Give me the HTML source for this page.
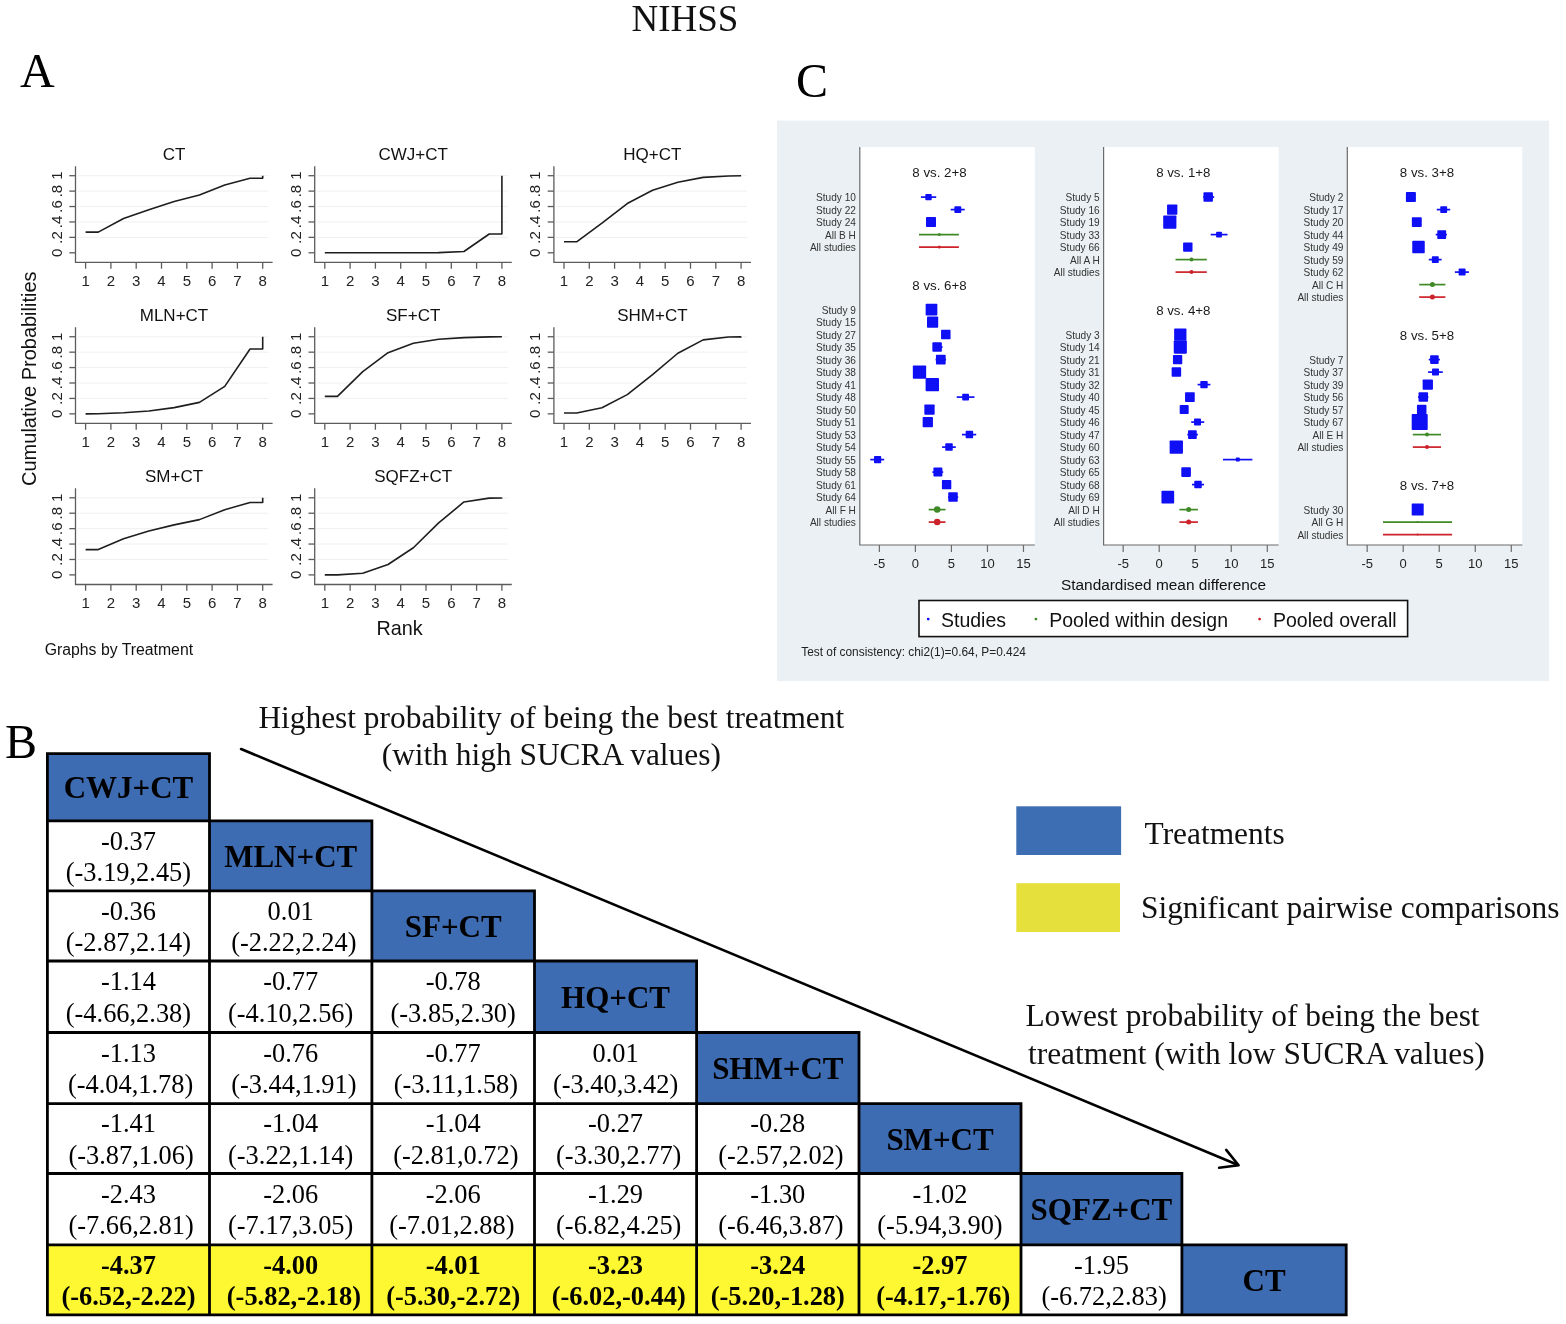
<!DOCTYPE html>
<html><head><meta charset="utf-8"><title>NIHSS</title>
<style>
html,body{margin:0;padding:0;background:#fff;}
body{width:1566px;height:1324px;overflow:hidden;}
svg{display:block;}
</style></head>
<body>
<svg width="1566" height="1324" viewBox="0 0 1566 1324">
<rect width="1566" height="1324" fill="#fff"/>
<text x="685" y="30.5" font-family="'Liberation Serif', 'Times New Roman', serif" font-size="37" text-anchor="middle" fill="#111">NIHSS</text>
<text x="20" y="87" font-family="'Liberation Serif', 'Times New Roman', serif" font-size="48" fill="#000">A</text>
<text x="796" y="97" font-family="'Liberation Serif', 'Times New Roman', serif" font-size="48" fill="#000">C</text>
<text x="5" y="757.6" font-family="'Liberation Serif', 'Times New Roman', serif" font-size="48" fill="#000">B</text>
<g font-family="'Liberation Sans', Arial, sans-serif"><line x1="77.5" y1="237.38" x2="268.6" y2="237.38" stroke="#f0f0f0" stroke-width="1"/><line x1="77.5" y1="221.96" x2="268.6" y2="221.96" stroke="#f0f0f0" stroke-width="1"/><line x1="77.5" y1="206.54" x2="268.6" y2="206.54" stroke="#f0f0f0" stroke-width="1"/><line x1="77.5" y1="191.12" x2="268.6" y2="191.12" stroke="#f0f0f0" stroke-width="1"/><line x1="77.5" y1="175.7" x2="268.6" y2="175.7" stroke="#f0f0f0" stroke-width="1"/><path d="M75.5 166.2V262.4H272.6" fill="none" stroke="#5c5c5c" stroke-width="1.3"/><line x1="69.3" y1="252.8" x2="75.5" y2="252.8" stroke="#5c5c5c" stroke-width="1.3"/><text transform="translate(61.7,252.8) rotate(-90)" text-anchor="middle" font-size="15" fill="#222">0</text><line x1="69.3" y1="237.38" x2="75.5" y2="237.38" stroke="#5c5c5c" stroke-width="1.3"/><text transform="translate(61.7,237.38) rotate(-90)" text-anchor="middle" font-size="15" fill="#222">.2</text><line x1="69.3" y1="221.96" x2="75.5" y2="221.96" stroke="#5c5c5c" stroke-width="1.3"/><text transform="translate(61.7,221.96) rotate(-90)" text-anchor="middle" font-size="15" fill="#222">.4</text><line x1="69.3" y1="206.54" x2="75.5" y2="206.54" stroke="#5c5c5c" stroke-width="1.3"/><text transform="translate(61.7,206.54) rotate(-90)" text-anchor="middle" font-size="15" fill="#222">.6</text><line x1="69.3" y1="191.12" x2="75.5" y2="191.12" stroke="#5c5c5c" stroke-width="1.3"/><text transform="translate(61.7,191.12) rotate(-90)" text-anchor="middle" font-size="15" fill="#222">.8</text><line x1="69.3" y1="175.7" x2="75.5" y2="175.7" stroke="#5c5c5c" stroke-width="1.3"/><text transform="translate(61.7,175.7) rotate(-90)" text-anchor="middle" font-size="15" fill="#222">1</text><line x1="85.6" y1="262.4" x2="85.6" y2="268.7" stroke="#5c5c5c" stroke-width="1.3"/><text x="85.6" y="286.2" text-anchor="middle" font-size="15" fill="#222">1</text><line x1="110.9" y1="262.4" x2="110.9" y2="268.7" stroke="#5c5c5c" stroke-width="1.3"/><text x="110.9" y="286.2" text-anchor="middle" font-size="15" fill="#222">2</text><line x1="136.2" y1="262.4" x2="136.2" y2="268.7" stroke="#5c5c5c" stroke-width="1.3"/><text x="136.2" y="286.2" text-anchor="middle" font-size="15" fill="#222">3</text><line x1="161.5" y1="262.4" x2="161.5" y2="268.7" stroke="#5c5c5c" stroke-width="1.3"/><text x="161.5" y="286.2" text-anchor="middle" font-size="15" fill="#222">4</text><line x1="186.8" y1="262.4" x2="186.8" y2="268.7" stroke="#5c5c5c" stroke-width="1.3"/><text x="186.8" y="286.2" text-anchor="middle" font-size="15" fill="#222">5</text><line x1="212.1" y1="262.4" x2="212.1" y2="268.7" stroke="#5c5c5c" stroke-width="1.3"/><text x="212.1" y="286.2" text-anchor="middle" font-size="15" fill="#222">6</text><line x1="237.4" y1="262.4" x2="237.4" y2="268.7" stroke="#5c5c5c" stroke-width="1.3"/><text x="237.4" y="286.2" text-anchor="middle" font-size="15" fill="#222">7</text><line x1="262.7" y1="262.4" x2="262.7" y2="268.7" stroke="#5c5c5c" stroke-width="1.3"/><text x="262.7" y="286.2" text-anchor="middle" font-size="15" fill="#222">8</text><text x="174" y="160" text-anchor="middle" font-size="17" fill="#111">CT</text><polyline points="85.6,232.14 98.25,232.14 123.55,218.57 148.85,209.86 174.15,201.53 199.45,194.9 224.75,184.95 250.05,178.32 262.7,178.32 262.7,175.7" fill="none" stroke="#1e1e1e" stroke-width="1.6" stroke-linejoin="round"/></g>
<g font-family="'Liberation Sans', Arial, sans-serif"><line x1="316.7" y1="237.38" x2="507.8" y2="237.38" stroke="#f0f0f0" stroke-width="1"/><line x1="316.7" y1="221.96" x2="507.8" y2="221.96" stroke="#f0f0f0" stroke-width="1"/><line x1="316.7" y1="206.54" x2="507.8" y2="206.54" stroke="#f0f0f0" stroke-width="1"/><line x1="316.7" y1="191.12" x2="507.8" y2="191.12" stroke="#f0f0f0" stroke-width="1"/><line x1="316.7" y1="175.7" x2="507.8" y2="175.7" stroke="#f0f0f0" stroke-width="1"/><path d="M314.7 166.2V262.4H511.8" fill="none" stroke="#5c5c5c" stroke-width="1.3"/><line x1="308.5" y1="252.8" x2="314.7" y2="252.8" stroke="#5c5c5c" stroke-width="1.3"/><text transform="translate(300.9,252.8) rotate(-90)" text-anchor="middle" font-size="15" fill="#222">0</text><line x1="308.5" y1="237.38" x2="314.7" y2="237.38" stroke="#5c5c5c" stroke-width="1.3"/><text transform="translate(300.9,237.38) rotate(-90)" text-anchor="middle" font-size="15" fill="#222">.2</text><line x1="308.5" y1="221.96" x2="314.7" y2="221.96" stroke="#5c5c5c" stroke-width="1.3"/><text transform="translate(300.9,221.96) rotate(-90)" text-anchor="middle" font-size="15" fill="#222">.4</text><line x1="308.5" y1="206.54" x2="314.7" y2="206.54" stroke="#5c5c5c" stroke-width="1.3"/><text transform="translate(300.9,206.54) rotate(-90)" text-anchor="middle" font-size="15" fill="#222">.6</text><line x1="308.5" y1="191.12" x2="314.7" y2="191.12" stroke="#5c5c5c" stroke-width="1.3"/><text transform="translate(300.9,191.12) rotate(-90)" text-anchor="middle" font-size="15" fill="#222">.8</text><line x1="308.5" y1="175.7" x2="314.7" y2="175.7" stroke="#5c5c5c" stroke-width="1.3"/><text transform="translate(300.9,175.7) rotate(-90)" text-anchor="middle" font-size="15" fill="#222">1</text><line x1="324.8" y1="262.4" x2="324.8" y2="268.7" stroke="#5c5c5c" stroke-width="1.3"/><text x="324.8" y="286.2" text-anchor="middle" font-size="15" fill="#222">1</text><line x1="350.1" y1="262.4" x2="350.1" y2="268.7" stroke="#5c5c5c" stroke-width="1.3"/><text x="350.1" y="286.2" text-anchor="middle" font-size="15" fill="#222">2</text><line x1="375.4" y1="262.4" x2="375.4" y2="268.7" stroke="#5c5c5c" stroke-width="1.3"/><text x="375.4" y="286.2" text-anchor="middle" font-size="15" fill="#222">3</text><line x1="400.7" y1="262.4" x2="400.7" y2="268.7" stroke="#5c5c5c" stroke-width="1.3"/><text x="400.7" y="286.2" text-anchor="middle" font-size="15" fill="#222">4</text><line x1="426" y1="262.4" x2="426" y2="268.7" stroke="#5c5c5c" stroke-width="1.3"/><text x="426" y="286.2" text-anchor="middle" font-size="15" fill="#222">5</text><line x1="451.3" y1="262.4" x2="451.3" y2="268.7" stroke="#5c5c5c" stroke-width="1.3"/><text x="451.3" y="286.2" text-anchor="middle" font-size="15" fill="#222">6</text><line x1="476.6" y1="262.4" x2="476.6" y2="268.7" stroke="#5c5c5c" stroke-width="1.3"/><text x="476.6" y="286.2" text-anchor="middle" font-size="15" fill="#222">7</text><line x1="501.9" y1="262.4" x2="501.9" y2="268.7" stroke="#5c5c5c" stroke-width="1.3"/><text x="501.9" y="286.2" text-anchor="middle" font-size="15" fill="#222">8</text><text x="413.2" y="160" text-anchor="middle" font-size="17" fill="#111">CWJ+CT</text><polyline points="324.8,252.8 337.45,252.8 362.75,252.8 388.05,252.8 413.35,252.8 438.65,252.65 463.95,251.49 489.25,233.99 501.9,233.99 501.9,175.7" fill="none" stroke="#1e1e1e" stroke-width="1.6" stroke-linejoin="round"/></g>
<g font-family="'Liberation Sans', Arial, sans-serif"><line x1="555.9" y1="237.38" x2="747" y2="237.38" stroke="#f0f0f0" stroke-width="1"/><line x1="555.9" y1="221.96" x2="747" y2="221.96" stroke="#f0f0f0" stroke-width="1"/><line x1="555.9" y1="206.54" x2="747" y2="206.54" stroke="#f0f0f0" stroke-width="1"/><line x1="555.9" y1="191.12" x2="747" y2="191.12" stroke="#f0f0f0" stroke-width="1"/><line x1="555.9" y1="175.7" x2="747" y2="175.7" stroke="#f0f0f0" stroke-width="1"/><path d="M553.9 166.2V262.4H751" fill="none" stroke="#5c5c5c" stroke-width="1.3"/><line x1="547.7" y1="252.8" x2="553.9" y2="252.8" stroke="#5c5c5c" stroke-width="1.3"/><text transform="translate(540.1,252.8) rotate(-90)" text-anchor="middle" font-size="15" fill="#222">0</text><line x1="547.7" y1="237.38" x2="553.9" y2="237.38" stroke="#5c5c5c" stroke-width="1.3"/><text transform="translate(540.1,237.38) rotate(-90)" text-anchor="middle" font-size="15" fill="#222">.2</text><line x1="547.7" y1="221.96" x2="553.9" y2="221.96" stroke="#5c5c5c" stroke-width="1.3"/><text transform="translate(540.1,221.96) rotate(-90)" text-anchor="middle" font-size="15" fill="#222">.4</text><line x1="547.7" y1="206.54" x2="553.9" y2="206.54" stroke="#5c5c5c" stroke-width="1.3"/><text transform="translate(540.1,206.54) rotate(-90)" text-anchor="middle" font-size="15" fill="#222">.6</text><line x1="547.7" y1="191.12" x2="553.9" y2="191.12" stroke="#5c5c5c" stroke-width="1.3"/><text transform="translate(540.1,191.12) rotate(-90)" text-anchor="middle" font-size="15" fill="#222">.8</text><line x1="547.7" y1="175.7" x2="553.9" y2="175.7" stroke="#5c5c5c" stroke-width="1.3"/><text transform="translate(540.1,175.7) rotate(-90)" text-anchor="middle" font-size="15" fill="#222">1</text><line x1="564" y1="262.4" x2="564" y2="268.7" stroke="#5c5c5c" stroke-width="1.3"/><text x="564" y="286.2" text-anchor="middle" font-size="15" fill="#222">1</text><line x1="589.3" y1="262.4" x2="589.3" y2="268.7" stroke="#5c5c5c" stroke-width="1.3"/><text x="589.3" y="286.2" text-anchor="middle" font-size="15" fill="#222">2</text><line x1="614.6" y1="262.4" x2="614.6" y2="268.7" stroke="#5c5c5c" stroke-width="1.3"/><text x="614.6" y="286.2" text-anchor="middle" font-size="15" fill="#222">3</text><line x1="639.9" y1="262.4" x2="639.9" y2="268.7" stroke="#5c5c5c" stroke-width="1.3"/><text x="639.9" y="286.2" text-anchor="middle" font-size="15" fill="#222">4</text><line x1="665.2" y1="262.4" x2="665.2" y2="268.7" stroke="#5c5c5c" stroke-width="1.3"/><text x="665.2" y="286.2" text-anchor="middle" font-size="15" fill="#222">5</text><line x1="690.5" y1="262.4" x2="690.5" y2="268.7" stroke="#5c5c5c" stroke-width="1.3"/><text x="690.5" y="286.2" text-anchor="middle" font-size="15" fill="#222">6</text><line x1="715.8" y1="262.4" x2="715.8" y2="268.7" stroke="#5c5c5c" stroke-width="1.3"/><text x="715.8" y="286.2" text-anchor="middle" font-size="15" fill="#222">7</text><line x1="741.1" y1="262.4" x2="741.1" y2="268.7" stroke="#5c5c5c" stroke-width="1.3"/><text x="741.1" y="286.2" text-anchor="middle" font-size="15" fill="#222">8</text><text x="652.4" y="160" text-anchor="middle" font-size="17" fill="#111">HQ+CT</text><polyline points="564,241.77 576.65,241.77 601.95,223.12 627.25,203.53 652.55,190.19 677.85,182.33 703.15,177.4 728.45,176.01 741.1,175.7 741.1,175.7" fill="none" stroke="#1e1e1e" stroke-width="1.6" stroke-linejoin="round"/></g>
<g font-family="'Liberation Sans', Arial, sans-serif"><line x1="77.5" y1="398.43" x2="268.6" y2="398.43" stroke="#f0f0f0" stroke-width="1"/><line x1="77.5" y1="383.01" x2="268.6" y2="383.01" stroke="#f0f0f0" stroke-width="1"/><line x1="77.5" y1="367.59" x2="268.6" y2="367.59" stroke="#f0f0f0" stroke-width="1"/><line x1="77.5" y1="352.17" x2="268.6" y2="352.17" stroke="#f0f0f0" stroke-width="1"/><line x1="77.5" y1="336.75" x2="268.6" y2="336.75" stroke="#f0f0f0" stroke-width="1"/><path d="M75.5 327.25V423.45H272.6" fill="none" stroke="#5c5c5c" stroke-width="1.3"/><line x1="69.3" y1="413.85" x2="75.5" y2="413.85" stroke="#5c5c5c" stroke-width="1.3"/><text transform="translate(61.7,413.85) rotate(-90)" text-anchor="middle" font-size="15" fill="#222">0</text><line x1="69.3" y1="398.43" x2="75.5" y2="398.43" stroke="#5c5c5c" stroke-width="1.3"/><text transform="translate(61.7,398.43) rotate(-90)" text-anchor="middle" font-size="15" fill="#222">.2</text><line x1="69.3" y1="383.01" x2="75.5" y2="383.01" stroke="#5c5c5c" stroke-width="1.3"/><text transform="translate(61.7,383.01) rotate(-90)" text-anchor="middle" font-size="15" fill="#222">.4</text><line x1="69.3" y1="367.59" x2="75.5" y2="367.59" stroke="#5c5c5c" stroke-width="1.3"/><text transform="translate(61.7,367.59) rotate(-90)" text-anchor="middle" font-size="15" fill="#222">.6</text><line x1="69.3" y1="352.17" x2="75.5" y2="352.17" stroke="#5c5c5c" stroke-width="1.3"/><text transform="translate(61.7,352.17) rotate(-90)" text-anchor="middle" font-size="15" fill="#222">.8</text><line x1="69.3" y1="336.75" x2="75.5" y2="336.75" stroke="#5c5c5c" stroke-width="1.3"/><text transform="translate(61.7,336.75) rotate(-90)" text-anchor="middle" font-size="15" fill="#222">1</text><line x1="85.6" y1="423.45" x2="85.6" y2="429.75" stroke="#5c5c5c" stroke-width="1.3"/><text x="85.6" y="447.25" text-anchor="middle" font-size="15" fill="#222">1</text><line x1="110.9" y1="423.45" x2="110.9" y2="429.75" stroke="#5c5c5c" stroke-width="1.3"/><text x="110.9" y="447.25" text-anchor="middle" font-size="15" fill="#222">2</text><line x1="136.2" y1="423.45" x2="136.2" y2="429.75" stroke="#5c5c5c" stroke-width="1.3"/><text x="136.2" y="447.25" text-anchor="middle" font-size="15" fill="#222">3</text><line x1="161.5" y1="423.45" x2="161.5" y2="429.75" stroke="#5c5c5c" stroke-width="1.3"/><text x="161.5" y="447.25" text-anchor="middle" font-size="15" fill="#222">4</text><line x1="186.8" y1="423.45" x2="186.8" y2="429.75" stroke="#5c5c5c" stroke-width="1.3"/><text x="186.8" y="447.25" text-anchor="middle" font-size="15" fill="#222">5</text><line x1="212.1" y1="423.45" x2="212.1" y2="429.75" stroke="#5c5c5c" stroke-width="1.3"/><text x="212.1" y="447.25" text-anchor="middle" font-size="15" fill="#222">6</text><line x1="237.4" y1="423.45" x2="237.4" y2="429.75" stroke="#5c5c5c" stroke-width="1.3"/><text x="237.4" y="447.25" text-anchor="middle" font-size="15" fill="#222">7</text><line x1="262.7" y1="423.45" x2="262.7" y2="429.75" stroke="#5c5c5c" stroke-width="1.3"/><text x="262.7" y="447.25" text-anchor="middle" font-size="15" fill="#222">8</text><text x="174" y="321.05" text-anchor="middle" font-size="17" fill="#111">MLN+CT</text><polyline points="85.6,413.85 98.25,413.7 123.55,412.77 148.85,411.07 174.15,407.6 199.45,402.36 224.75,386.33 250.05,348.93 262.7,348.93 262.7,336.75" fill="none" stroke="#1e1e1e" stroke-width="1.6" stroke-linejoin="round"/></g>
<g font-family="'Liberation Sans', Arial, sans-serif"><line x1="316.7" y1="398.43" x2="507.8" y2="398.43" stroke="#f0f0f0" stroke-width="1"/><line x1="316.7" y1="383.01" x2="507.8" y2="383.01" stroke="#f0f0f0" stroke-width="1"/><line x1="316.7" y1="367.59" x2="507.8" y2="367.59" stroke="#f0f0f0" stroke-width="1"/><line x1="316.7" y1="352.17" x2="507.8" y2="352.17" stroke="#f0f0f0" stroke-width="1"/><line x1="316.7" y1="336.75" x2="507.8" y2="336.75" stroke="#f0f0f0" stroke-width="1"/><path d="M314.7 327.25V423.45H511.8" fill="none" stroke="#5c5c5c" stroke-width="1.3"/><line x1="308.5" y1="413.85" x2="314.7" y2="413.85" stroke="#5c5c5c" stroke-width="1.3"/><text transform="translate(300.9,413.85) rotate(-90)" text-anchor="middle" font-size="15" fill="#222">0</text><line x1="308.5" y1="398.43" x2="314.7" y2="398.43" stroke="#5c5c5c" stroke-width="1.3"/><text transform="translate(300.9,398.43) rotate(-90)" text-anchor="middle" font-size="15" fill="#222">.2</text><line x1="308.5" y1="383.01" x2="314.7" y2="383.01" stroke="#5c5c5c" stroke-width="1.3"/><text transform="translate(300.9,383.01) rotate(-90)" text-anchor="middle" font-size="15" fill="#222">.4</text><line x1="308.5" y1="367.59" x2="314.7" y2="367.59" stroke="#5c5c5c" stroke-width="1.3"/><text transform="translate(300.9,367.59) rotate(-90)" text-anchor="middle" font-size="15" fill="#222">.6</text><line x1="308.5" y1="352.17" x2="314.7" y2="352.17" stroke="#5c5c5c" stroke-width="1.3"/><text transform="translate(300.9,352.17) rotate(-90)" text-anchor="middle" font-size="15" fill="#222">.8</text><line x1="308.5" y1="336.75" x2="314.7" y2="336.75" stroke="#5c5c5c" stroke-width="1.3"/><text transform="translate(300.9,336.75) rotate(-90)" text-anchor="middle" font-size="15" fill="#222">1</text><line x1="324.8" y1="423.45" x2="324.8" y2="429.75" stroke="#5c5c5c" stroke-width="1.3"/><text x="324.8" y="447.25" text-anchor="middle" font-size="15" fill="#222">1</text><line x1="350.1" y1="423.45" x2="350.1" y2="429.75" stroke="#5c5c5c" stroke-width="1.3"/><text x="350.1" y="447.25" text-anchor="middle" font-size="15" fill="#222">2</text><line x1="375.4" y1="423.45" x2="375.4" y2="429.75" stroke="#5c5c5c" stroke-width="1.3"/><text x="375.4" y="447.25" text-anchor="middle" font-size="15" fill="#222">3</text><line x1="400.7" y1="423.45" x2="400.7" y2="429.75" stroke="#5c5c5c" stroke-width="1.3"/><text x="400.7" y="447.25" text-anchor="middle" font-size="15" fill="#222">4</text><line x1="426" y1="423.45" x2="426" y2="429.75" stroke="#5c5c5c" stroke-width="1.3"/><text x="426" y="447.25" text-anchor="middle" font-size="15" fill="#222">5</text><line x1="451.3" y1="423.45" x2="451.3" y2="429.75" stroke="#5c5c5c" stroke-width="1.3"/><text x="451.3" y="447.25" text-anchor="middle" font-size="15" fill="#222">6</text><line x1="476.6" y1="423.45" x2="476.6" y2="429.75" stroke="#5c5c5c" stroke-width="1.3"/><text x="476.6" y="447.25" text-anchor="middle" font-size="15" fill="#222">7</text><line x1="501.9" y1="423.45" x2="501.9" y2="429.75" stroke="#5c5c5c" stroke-width="1.3"/><text x="501.9" y="447.25" text-anchor="middle" font-size="15" fill="#222">8</text><text x="413.2" y="321.05" text-anchor="middle" font-size="17" fill="#111">SF+CT</text><polyline points="324.8,396.35 337.45,396.35 362.75,371.6 388.05,352.63 413.35,343.23 438.65,339.22 463.95,337.6 489.25,336.9 501.9,336.75 501.9,336.75" fill="none" stroke="#1e1e1e" stroke-width="1.6" stroke-linejoin="round"/></g>
<g font-family="'Liberation Sans', Arial, sans-serif"><line x1="555.9" y1="398.43" x2="747" y2="398.43" stroke="#f0f0f0" stroke-width="1"/><line x1="555.9" y1="383.01" x2="747" y2="383.01" stroke="#f0f0f0" stroke-width="1"/><line x1="555.9" y1="367.59" x2="747" y2="367.59" stroke="#f0f0f0" stroke-width="1"/><line x1="555.9" y1="352.17" x2="747" y2="352.17" stroke="#f0f0f0" stroke-width="1"/><line x1="555.9" y1="336.75" x2="747" y2="336.75" stroke="#f0f0f0" stroke-width="1"/><path d="M553.9 327.25V423.45H751" fill="none" stroke="#5c5c5c" stroke-width="1.3"/><line x1="547.7" y1="413.85" x2="553.9" y2="413.85" stroke="#5c5c5c" stroke-width="1.3"/><text transform="translate(540.1,413.85) rotate(-90)" text-anchor="middle" font-size="15" fill="#222">0</text><line x1="547.7" y1="398.43" x2="553.9" y2="398.43" stroke="#5c5c5c" stroke-width="1.3"/><text transform="translate(540.1,398.43) rotate(-90)" text-anchor="middle" font-size="15" fill="#222">.2</text><line x1="547.7" y1="383.01" x2="553.9" y2="383.01" stroke="#5c5c5c" stroke-width="1.3"/><text transform="translate(540.1,383.01) rotate(-90)" text-anchor="middle" font-size="15" fill="#222">.4</text><line x1="547.7" y1="367.59" x2="553.9" y2="367.59" stroke="#5c5c5c" stroke-width="1.3"/><text transform="translate(540.1,367.59) rotate(-90)" text-anchor="middle" font-size="15" fill="#222">.6</text><line x1="547.7" y1="352.17" x2="553.9" y2="352.17" stroke="#5c5c5c" stroke-width="1.3"/><text transform="translate(540.1,352.17) rotate(-90)" text-anchor="middle" font-size="15" fill="#222">.8</text><line x1="547.7" y1="336.75" x2="553.9" y2="336.75" stroke="#5c5c5c" stroke-width="1.3"/><text transform="translate(540.1,336.75) rotate(-90)" text-anchor="middle" font-size="15" fill="#222">1</text><line x1="564" y1="423.45" x2="564" y2="429.75" stroke="#5c5c5c" stroke-width="1.3"/><text x="564" y="447.25" text-anchor="middle" font-size="15" fill="#222">1</text><line x1="589.3" y1="423.45" x2="589.3" y2="429.75" stroke="#5c5c5c" stroke-width="1.3"/><text x="589.3" y="447.25" text-anchor="middle" font-size="15" fill="#222">2</text><line x1="614.6" y1="423.45" x2="614.6" y2="429.75" stroke="#5c5c5c" stroke-width="1.3"/><text x="614.6" y="447.25" text-anchor="middle" font-size="15" fill="#222">3</text><line x1="639.9" y1="423.45" x2="639.9" y2="429.75" stroke="#5c5c5c" stroke-width="1.3"/><text x="639.9" y="447.25" text-anchor="middle" font-size="15" fill="#222">4</text><line x1="665.2" y1="423.45" x2="665.2" y2="429.75" stroke="#5c5c5c" stroke-width="1.3"/><text x="665.2" y="447.25" text-anchor="middle" font-size="15" fill="#222">5</text><line x1="690.5" y1="423.45" x2="690.5" y2="429.75" stroke="#5c5c5c" stroke-width="1.3"/><text x="690.5" y="447.25" text-anchor="middle" font-size="15" fill="#222">6</text><line x1="715.8" y1="423.45" x2="715.8" y2="429.75" stroke="#5c5c5c" stroke-width="1.3"/><text x="715.8" y="447.25" text-anchor="middle" font-size="15" fill="#222">7</text><line x1="741.1" y1="423.45" x2="741.1" y2="429.75" stroke="#5c5c5c" stroke-width="1.3"/><text x="741.1" y="447.25" text-anchor="middle" font-size="15" fill="#222">8</text><text x="652.4" y="321.05" text-anchor="middle" font-size="17" fill="#111">SHM+CT</text><polyline points="564,413 576.65,413 601.95,407.68 627.25,394.65 652.55,374.61 677.85,353.25 703.15,339.91 728.45,337.06 741.1,336.9 741.1,336.75" fill="none" stroke="#1e1e1e" stroke-width="1.6" stroke-linejoin="round"/></g>
<g font-family="'Liberation Sans', Arial, sans-serif"><line x1="77.5" y1="559.48" x2="268.6" y2="559.48" stroke="#f0f0f0" stroke-width="1"/><line x1="77.5" y1="544.06" x2="268.6" y2="544.06" stroke="#f0f0f0" stroke-width="1"/><line x1="77.5" y1="528.64" x2="268.6" y2="528.64" stroke="#f0f0f0" stroke-width="1"/><line x1="77.5" y1="513.22" x2="268.6" y2="513.22" stroke="#f0f0f0" stroke-width="1"/><line x1="77.5" y1="497.8" x2="268.6" y2="497.8" stroke="#f0f0f0" stroke-width="1"/><path d="M75.5 488.3V584.5H272.6" fill="none" stroke="#5c5c5c" stroke-width="1.3"/><line x1="69.3" y1="574.9" x2="75.5" y2="574.9" stroke="#5c5c5c" stroke-width="1.3"/><text transform="translate(61.7,574.9) rotate(-90)" text-anchor="middle" font-size="15" fill="#222">0</text><line x1="69.3" y1="559.48" x2="75.5" y2="559.48" stroke="#5c5c5c" stroke-width="1.3"/><text transform="translate(61.7,559.48) rotate(-90)" text-anchor="middle" font-size="15" fill="#222">.2</text><line x1="69.3" y1="544.06" x2="75.5" y2="544.06" stroke="#5c5c5c" stroke-width="1.3"/><text transform="translate(61.7,544.06) rotate(-90)" text-anchor="middle" font-size="15" fill="#222">.4</text><line x1="69.3" y1="528.64" x2="75.5" y2="528.64" stroke="#5c5c5c" stroke-width="1.3"/><text transform="translate(61.7,528.64) rotate(-90)" text-anchor="middle" font-size="15" fill="#222">.6</text><line x1="69.3" y1="513.22" x2="75.5" y2="513.22" stroke="#5c5c5c" stroke-width="1.3"/><text transform="translate(61.7,513.22) rotate(-90)" text-anchor="middle" font-size="15" fill="#222">.8</text><line x1="69.3" y1="497.8" x2="75.5" y2="497.8" stroke="#5c5c5c" stroke-width="1.3"/><text transform="translate(61.7,497.8) rotate(-90)" text-anchor="middle" font-size="15" fill="#222">1</text><line x1="85.6" y1="584.5" x2="85.6" y2="590.8" stroke="#5c5c5c" stroke-width="1.3"/><text x="85.6" y="608.3" text-anchor="middle" font-size="15" fill="#222">1</text><line x1="110.9" y1="584.5" x2="110.9" y2="590.8" stroke="#5c5c5c" stroke-width="1.3"/><text x="110.9" y="608.3" text-anchor="middle" font-size="15" fill="#222">2</text><line x1="136.2" y1="584.5" x2="136.2" y2="590.8" stroke="#5c5c5c" stroke-width="1.3"/><text x="136.2" y="608.3" text-anchor="middle" font-size="15" fill="#222">3</text><line x1="161.5" y1="584.5" x2="161.5" y2="590.8" stroke="#5c5c5c" stroke-width="1.3"/><text x="161.5" y="608.3" text-anchor="middle" font-size="15" fill="#222">4</text><line x1="186.8" y1="584.5" x2="186.8" y2="590.8" stroke="#5c5c5c" stroke-width="1.3"/><text x="186.8" y="608.3" text-anchor="middle" font-size="15" fill="#222">5</text><line x1="212.1" y1="584.5" x2="212.1" y2="590.8" stroke="#5c5c5c" stroke-width="1.3"/><text x="212.1" y="608.3" text-anchor="middle" font-size="15" fill="#222">6</text><line x1="237.4" y1="584.5" x2="237.4" y2="590.8" stroke="#5c5c5c" stroke-width="1.3"/><text x="237.4" y="608.3" text-anchor="middle" font-size="15" fill="#222">7</text><line x1="262.7" y1="584.5" x2="262.7" y2="590.8" stroke="#5c5c5c" stroke-width="1.3"/><text x="262.7" y="608.3" text-anchor="middle" font-size="15" fill="#222">8</text><text x="174" y="482.1" text-anchor="middle" font-size="17" fill="#111">SM+CT</text><polyline points="85.6,549.61 98.25,549.61 123.55,538.82 148.85,530.95 174.15,524.86 199.45,519.62 224.75,509.67 250.05,502.5 262.7,502.5 262.7,497.8" fill="none" stroke="#1e1e1e" stroke-width="1.6" stroke-linejoin="round"/></g>
<g font-family="'Liberation Sans', Arial, sans-serif"><line x1="316.7" y1="559.48" x2="507.8" y2="559.48" stroke="#f0f0f0" stroke-width="1"/><line x1="316.7" y1="544.06" x2="507.8" y2="544.06" stroke="#f0f0f0" stroke-width="1"/><line x1="316.7" y1="528.64" x2="507.8" y2="528.64" stroke="#f0f0f0" stroke-width="1"/><line x1="316.7" y1="513.22" x2="507.8" y2="513.22" stroke="#f0f0f0" stroke-width="1"/><line x1="316.7" y1="497.8" x2="507.8" y2="497.8" stroke="#f0f0f0" stroke-width="1"/><path d="M314.7 488.3V584.5H511.8" fill="none" stroke="#5c5c5c" stroke-width="1.3"/><line x1="308.5" y1="574.9" x2="314.7" y2="574.9" stroke="#5c5c5c" stroke-width="1.3"/><text transform="translate(300.9,574.9) rotate(-90)" text-anchor="middle" font-size="15" fill="#222">0</text><line x1="308.5" y1="559.48" x2="314.7" y2="559.48" stroke="#5c5c5c" stroke-width="1.3"/><text transform="translate(300.9,559.48) rotate(-90)" text-anchor="middle" font-size="15" fill="#222">.2</text><line x1="308.5" y1="544.06" x2="314.7" y2="544.06" stroke="#5c5c5c" stroke-width="1.3"/><text transform="translate(300.9,544.06) rotate(-90)" text-anchor="middle" font-size="15" fill="#222">.4</text><line x1="308.5" y1="528.64" x2="314.7" y2="528.64" stroke="#5c5c5c" stroke-width="1.3"/><text transform="translate(300.9,528.64) rotate(-90)" text-anchor="middle" font-size="15" fill="#222">.6</text><line x1="308.5" y1="513.22" x2="314.7" y2="513.22" stroke="#5c5c5c" stroke-width="1.3"/><text transform="translate(300.9,513.22) rotate(-90)" text-anchor="middle" font-size="15" fill="#222">.8</text><line x1="308.5" y1="497.8" x2="314.7" y2="497.8" stroke="#5c5c5c" stroke-width="1.3"/><text transform="translate(300.9,497.8) rotate(-90)" text-anchor="middle" font-size="15" fill="#222">1</text><line x1="324.8" y1="584.5" x2="324.8" y2="590.8" stroke="#5c5c5c" stroke-width="1.3"/><text x="324.8" y="608.3" text-anchor="middle" font-size="15" fill="#222">1</text><line x1="350.1" y1="584.5" x2="350.1" y2="590.8" stroke="#5c5c5c" stroke-width="1.3"/><text x="350.1" y="608.3" text-anchor="middle" font-size="15" fill="#222">2</text><line x1="375.4" y1="584.5" x2="375.4" y2="590.8" stroke="#5c5c5c" stroke-width="1.3"/><text x="375.4" y="608.3" text-anchor="middle" font-size="15" fill="#222">3</text><line x1="400.7" y1="584.5" x2="400.7" y2="590.8" stroke="#5c5c5c" stroke-width="1.3"/><text x="400.7" y="608.3" text-anchor="middle" font-size="15" fill="#222">4</text><line x1="426" y1="584.5" x2="426" y2="590.8" stroke="#5c5c5c" stroke-width="1.3"/><text x="426" y="608.3" text-anchor="middle" font-size="15" fill="#222">5</text><line x1="451.3" y1="584.5" x2="451.3" y2="590.8" stroke="#5c5c5c" stroke-width="1.3"/><text x="451.3" y="608.3" text-anchor="middle" font-size="15" fill="#222">6</text><line x1="476.6" y1="584.5" x2="476.6" y2="590.8" stroke="#5c5c5c" stroke-width="1.3"/><text x="476.6" y="608.3" text-anchor="middle" font-size="15" fill="#222">7</text><line x1="501.9" y1="584.5" x2="501.9" y2="590.8" stroke="#5c5c5c" stroke-width="1.3"/><text x="501.9" y="608.3" text-anchor="middle" font-size="15" fill="#222">8</text><text x="413.2" y="482.1" text-anchor="middle" font-size="17" fill="#111">SQFZ+CT</text><polyline points="324.8,574.9 337.45,574.9 362.75,573.2 388.05,564.49 413.35,547.76 438.65,522.93 463.95,501.96 489.25,498.11 501.9,497.95 501.9,497.8" fill="none" stroke="#1e1e1e" stroke-width="1.6" stroke-linejoin="round"/></g>
<text transform="translate(36,378.7) rotate(-90)" text-anchor="middle" font-family="'Liberation Sans', Arial, sans-serif" font-size="20" fill="#111">Cumulative Probabilities</text>
<text x="399.6" y="635.4" text-anchor="middle" font-family="'Liberation Sans', Arial, sans-serif" font-size="19.8" fill="#111">Rank</text>
<text x="44.7" y="655" font-family="'Liberation Sans', Arial, sans-serif" font-size="15.8" fill="#111">Graphs by Treatment</text>
<rect x="777" y="120.6" width="772" height="560.4" fill="#eaf0f4"/>
<g font-family="'Liberation Sans', Arial, sans-serif"><rect x="859.8" y="147" width="175" height="398" fill="#fff"/><path d="M859.8 147V545H1034.8" fill="none" stroke="#6b6b6b" stroke-width="1.2"/><line x1="879.38" y1="545" x2="879.38" y2="552" stroke="#6b6b6b" stroke-width="1.2"/><text x="879.38" y="567.5" text-anchor="middle" font-size="13" fill="#222">-5</text><line x1="915.4" y1="545" x2="915.4" y2="552" stroke="#6b6b6b" stroke-width="1.2"/><text x="915.4" y="567.5" text-anchor="middle" font-size="13" fill="#222">0</text><line x1="951.42" y1="545" x2="951.42" y2="552" stroke="#6b6b6b" stroke-width="1.2"/><text x="951.42" y="567.5" text-anchor="middle" font-size="13" fill="#222">5</text><line x1="987.45" y1="545" x2="987.45" y2="552" stroke="#6b6b6b" stroke-width="1.2"/><text x="987.45" y="567.5" text-anchor="middle" font-size="13" fill="#222">10</text><line x1="1023.48" y1="545" x2="1023.48" y2="552" stroke="#6b6b6b" stroke-width="1.2"/><text x="1023.48" y="567.5" text-anchor="middle" font-size="13" fill="#222">15</text><text x="939.5" y="177" text-anchor="middle" font-size="13.3" fill="#1a1a1a">8 vs. 2+8</text><text x="855.9" y="201" text-anchor="end" font-size="10.1" fill="#333">Study 10</text><text x="855.9" y="213.5" text-anchor="end" font-size="10.1" fill="#333">Study 22</text><text x="855.9" y="226" text-anchor="end" font-size="10.1" fill="#333">Study 24</text><text x="855.9" y="238.5" text-anchor="end" font-size="10.1" fill="#333">All B H</text><text x="855.9" y="251" text-anchor="end" font-size="10.1" fill="#333">All studies</text><text x="939.5" y="289.5" text-anchor="middle" font-size="13.3" fill="#1a1a1a">8 vs. 6+8</text><text x="855.9" y="313.5" text-anchor="end" font-size="10.1" fill="#333">Study 9</text><text x="855.9" y="326" text-anchor="end" font-size="10.1" fill="#333">Study 15</text><text x="855.9" y="338.5" text-anchor="end" font-size="10.1" fill="#333">Study 27</text><text x="855.9" y="351" text-anchor="end" font-size="10.1" fill="#333">Study 35</text><text x="855.9" y="363.5" text-anchor="end" font-size="10.1" fill="#333">Study 36</text><text x="855.9" y="376" text-anchor="end" font-size="10.1" fill="#333">Study 38</text><text x="855.9" y="388.5" text-anchor="end" font-size="10.1" fill="#333">Study 41</text><text x="855.9" y="401" text-anchor="end" font-size="10.1" fill="#333">Study 48</text><text x="855.9" y="413.5" text-anchor="end" font-size="10.1" fill="#333">Study 50</text><text x="855.9" y="426" text-anchor="end" font-size="10.1" fill="#333">Study 51</text><text x="855.9" y="438.5" text-anchor="end" font-size="10.1" fill="#333">Study 53</text><text x="855.9" y="451" text-anchor="end" font-size="10.1" fill="#333">Study 54</text><text x="855.9" y="463.5" text-anchor="end" font-size="10.1" fill="#333">Study 55</text><text x="855.9" y="476" text-anchor="end" font-size="10.1" fill="#333">Study 58</text><text x="855.9" y="488.5" text-anchor="end" font-size="10.1" fill="#333">Study 61</text><text x="855.9" y="501" text-anchor="end" font-size="10.1" fill="#333">Study 64</text><text x="855.9" y="513.5" text-anchor="end" font-size="10.1" fill="#333">All F H</text><text x="855.9" y="526" text-anchor="end" font-size="10.1" fill="#333">All studies</text><line x1="920.9" y1="197.1" x2="936.2" y2="197.1" stroke="#0f0ff5" stroke-width="1.7"/><rect x="925.3" y="193.9" width="6.4" height="6.4" rx="0.8" fill="#0f0ff5"/><line x1="950.7" y1="209.6" x2="964.7" y2="209.6" stroke="#0f0ff5" stroke-width="1.7"/><rect x="954.35" y="206.15" width="6.9" height="6.9" rx="0.8" fill="#0f0ff5"/><rect x="926" y="217.1" width="10" height="10" rx="0.8" fill="#0f0ff5"/><line x1="919" y1="234.6" x2="958.9" y2="234.6" stroke="#3f8a26" stroke-width="1.7"/><circle cx="939.3" cy="234.6" r="1.5" fill="#3f8a26"/><line x1="919" y1="247.1" x2="958.9" y2="247.1" stroke="#cc2229" stroke-width="1.7"/><circle cx="939.3" cy="247.1" r="1.5" fill="#cc2229"/><rect x="925.65" y="303.75" width="11.7" height="11.7" rx="0.8" fill="#0f0ff5"/><rect x="927" y="316.5" width="11.2" height="11.2" rx="0.8" fill="#0f0ff5"/><rect x="941.05" y="329.85" width="9.5" height="9.5" rx="0.8" fill="#0f0ff5"/><line x1="936" y1="347.1" x2="942.6" y2="347.1" stroke="#0f0ff5" stroke-width="1.7"/><rect x="932.35" y="342.35" width="9.5" height="9.5" rx="0.8" fill="#0f0ff5"/><line x1="935.6" y1="359.6" x2="946.1" y2="359.6" stroke="#0f0ff5" stroke-width="1.7"/><rect x="935.95" y="354.75" width="9.7" height="9.7" rx="0.8" fill="#0f0ff5"/><rect x="912.85" y="365.45" width="13.3" height="13.3" rx="0.8" fill="#0f0ff5"/><rect x="925.6" y="377.9" width="13.4" height="13.4" rx="0.8" fill="#0f0ff5"/><line x1="956.7" y1="397.1" x2="974.5" y2="397.1" stroke="#0f0ff5" stroke-width="1.7"/><rect x="962.2" y="393.7" width="6.8" height="6.8" rx="0.8" fill="#0f0ff5"/><rect x="924.35" y="404.45" width="10.3" height="10.3" rx="0.8" fill="#0f0ff5"/><rect x="922.65" y="416.95" width="10.3" height="10.3" rx="0.8" fill="#0f0ff5"/><line x1="962" y1="434.6" x2="976.2" y2="434.6" stroke="#0f0ff5" stroke-width="1.7"/><rect x="965.65" y="430.85" width="7.5" height="7.5" rx="0.8" fill="#0f0ff5"/><line x1="942.1" y1="447.1" x2="955.8" y2="447.1" stroke="#0f0ff5" stroke-width="1.7"/><rect x="945.25" y="443.35" width="7.5" height="7.5" rx="0.8" fill="#0f0ff5"/><line x1="870.3" y1="459.6" x2="884.2" y2="459.6" stroke="#0f0ff5" stroke-width="1.7"/><rect x="874" y="456" width="7.2" height="7.2" rx="0.8" fill="#0f0ff5"/><line x1="932.4" y1="472.1" x2="943.2" y2="472.1" stroke="#0f0ff5" stroke-width="1.7"/><rect x="933.4" y="467.6" width="9" height="9" rx="0.8" fill="#0f0ff5"/><rect x="941.9" y="479.9" width="9.4" height="9.4" rx="0.8" fill="#0f0ff5"/><line x1="948" y1="497.1" x2="958.2" y2="497.1" stroke="#0f0ff5" stroke-width="1.7"/><rect x="948.25" y="492.35" width="9.5" height="9.5" rx="0.8" fill="#0f0ff5"/><line x1="928.7" y1="509.6" x2="945.5" y2="509.6" stroke="#3f8a26" stroke-width="1.7"/><circle cx="937.2" cy="509.6" r="3.25" fill="#3f8a26"/><line x1="928.7" y1="522.1" x2="945.5" y2="522.1" stroke="#cc2229" stroke-width="1.7"/><circle cx="937.2" cy="522.1" r="3.25" fill="#cc2229"/></g>
<g font-family="'Liberation Sans', Arial, sans-serif"><rect x="1103.6" y="147" width="175" height="398" fill="#fff"/><path d="M1103.6 147V545H1278.6" fill="none" stroke="#6b6b6b" stroke-width="1.2"/><line x1="1123.17" y1="545" x2="1123.17" y2="552" stroke="#6b6b6b" stroke-width="1.2"/><text x="1123.17" y="567.5" text-anchor="middle" font-size="13" fill="#222">-5</text><line x1="1159.2" y1="545" x2="1159.2" y2="552" stroke="#6b6b6b" stroke-width="1.2"/><text x="1159.2" y="567.5" text-anchor="middle" font-size="13" fill="#222">0</text><line x1="1195.23" y1="545" x2="1195.23" y2="552" stroke="#6b6b6b" stroke-width="1.2"/><text x="1195.23" y="567.5" text-anchor="middle" font-size="13" fill="#222">5</text><line x1="1231.25" y1="545" x2="1231.25" y2="552" stroke="#6b6b6b" stroke-width="1.2"/><text x="1231.25" y="567.5" text-anchor="middle" font-size="13" fill="#222">10</text><line x1="1267.28" y1="545" x2="1267.28" y2="552" stroke="#6b6b6b" stroke-width="1.2"/><text x="1267.28" y="567.5" text-anchor="middle" font-size="13" fill="#222">15</text><text x="1183.3" y="177" text-anchor="middle" font-size="13.3" fill="#1a1a1a">8 vs. 1+8</text><text x="1099.7" y="201" text-anchor="end" font-size="10.1" fill="#333">Study 5</text><text x="1099.7" y="213.5" text-anchor="end" font-size="10.1" fill="#333">Study 16</text><text x="1099.7" y="226" text-anchor="end" font-size="10.1" fill="#333">Study 19</text><text x="1099.7" y="238.5" text-anchor="end" font-size="10.1" fill="#333">Study 33</text><text x="1099.7" y="251" text-anchor="end" font-size="10.1" fill="#333">Study 66</text><text x="1099.7" y="263.5" text-anchor="end" font-size="10.1" fill="#333">All A H</text><text x="1099.7" y="276" text-anchor="end" font-size="10.1" fill="#333">All studies</text><text x="1183.3" y="314.5" text-anchor="middle" font-size="13.3" fill="#1a1a1a">8 vs. 4+8</text><text x="1099.7" y="338.5" text-anchor="end" font-size="10.1" fill="#333">Study 3</text><text x="1099.7" y="351" text-anchor="end" font-size="10.1" fill="#333">Study 14</text><text x="1099.7" y="363.5" text-anchor="end" font-size="10.1" fill="#333">Study 21</text><text x="1099.7" y="376" text-anchor="end" font-size="10.1" fill="#333">Study 31</text><text x="1099.7" y="388.5" text-anchor="end" font-size="10.1" fill="#333">Study 32</text><text x="1099.7" y="401" text-anchor="end" font-size="10.1" fill="#333">Study 40</text><text x="1099.7" y="413.5" text-anchor="end" font-size="10.1" fill="#333">Study 45</text><text x="1099.7" y="426" text-anchor="end" font-size="10.1" fill="#333">Study 46</text><text x="1099.7" y="438.5" text-anchor="end" font-size="10.1" fill="#333">Study 47</text><text x="1099.7" y="451" text-anchor="end" font-size="10.1" fill="#333">Study 60</text><text x="1099.7" y="463.5" text-anchor="end" font-size="10.1" fill="#333">Study 63</text><text x="1099.7" y="476" text-anchor="end" font-size="10.1" fill="#333">Study 65</text><text x="1099.7" y="488.5" text-anchor="end" font-size="10.1" fill="#333">Study 68</text><text x="1099.7" y="501" text-anchor="end" font-size="10.1" fill="#333">Study 69</text><text x="1099.7" y="513.5" text-anchor="end" font-size="10.1" fill="#333">All D H</text><text x="1099.7" y="526" text-anchor="end" font-size="10.1" fill="#333">All studies</text><line x1="1203.2" y1="197.1" x2="1214.2" y2="197.1" stroke="#0f0ff5" stroke-width="1.7"/><rect x="1203.45" y="192.35" width="9.5" height="9.5" rx="0.8" fill="#0f0ff5"/><rect x="1167.05" y="204.45" width="10.3" height="10.3" rx="0.8" fill="#0f0ff5"/><rect x="1163.2" y="215.5" width="13.2" height="13.2" rx="0.8" fill="#0f0ff5"/><line x1="1210.7" y1="234.6" x2="1227.5" y2="234.6" stroke="#0f0ff5" stroke-width="1.7"/><rect x="1216.1" y="231.7" width="5.8" height="5.8" rx="0.8" fill="#0f0ff5"/><rect x="1183.1" y="242.4" width="9.4" height="9.4" rx="0.8" fill="#0f0ff5"/><line x1="1175.5" y1="259.6" x2="1206.8" y2="259.6" stroke="#3f8a26" stroke-width="1.7"/><circle cx="1191.5" cy="259.6" r="2" fill="#3f8a26"/><line x1="1175.5" y1="272.1" x2="1206.8" y2="272.1" stroke="#cc2229" stroke-width="1.7"/><circle cx="1191.5" cy="272.1" r="2" fill="#cc2229"/><rect x="1174.15" y="328.45" width="12.3" height="12.3" rx="0.8" fill="#0f0ff5"/><rect x="1173.75" y="340.55" width="13.1" height="13.1" rx="0.8" fill="#0f0ff5"/><rect x="1172.95" y="354.95" width="9.3" height="9.3" rx="0.8" fill="#0f0ff5"/><rect x="1171.65" y="367.35" width="9.5" height="9.5" rx="0.8" fill="#0f0ff5"/><line x1="1197.6" y1="384.6" x2="1210.4" y2="384.6" stroke="#0f0ff5" stroke-width="1.7"/><rect x="1200.3" y="380.9" width="7.4" height="7.4" rx="0.8" fill="#0f0ff5"/><rect x="1185.05" y="392.25" width="9.7" height="9.7" rx="0.8" fill="#0f0ff5"/><rect x="1179.7" y="405.1" width="9" height="9" rx="0.8" fill="#0f0ff5"/><line x1="1191.2" y1="422.1" x2="1204.2" y2="422.1" stroke="#0f0ff5" stroke-width="1.7"/><rect x="1194" y="418.6" width="7" height="7" rx="0.8" fill="#0f0ff5"/><line x1="1187.3" y1="434.6" x2="1197.9" y2="434.6" stroke="#0f0ff5" stroke-width="1.7"/><rect x="1188.05" y="430.25" width="8.7" height="8.7" rx="0.8" fill="#0f0ff5"/><rect x="1169.65" y="440.45" width="13.3" height="13.3" rx="0.8" fill="#0f0ff5"/><line x1="1223" y1="459.6" x2="1252.4" y2="459.6" stroke="#0f0ff5" stroke-width="1.7"/><rect x="1235.8" y="457.6" width="4" height="4" rx="0.8" fill="#0f0ff5"/><rect x="1181.3" y="467.3" width="9.6" height="9.6" rx="0.8" fill="#0f0ff5"/><line x1="1192" y1="484.6" x2="1204" y2="484.6" stroke="#0f0ff5" stroke-width="1.7"/><rect x="1194.25" y="480.85" width="7.5" height="7.5" rx="0.8" fill="#0f0ff5"/><rect x="1161.45" y="490.75" width="12.7" height="12.7" rx="0.8" fill="#0f0ff5"/><line x1="1179.4" y1="509.6" x2="1197.9" y2="509.6" stroke="#3f8a26" stroke-width="1.7"/><circle cx="1188.7" cy="509.6" r="2.5" fill="#3f8a26"/><line x1="1179.4" y1="522.1" x2="1197.9" y2="522.1" stroke="#cc2229" stroke-width="1.7"/><circle cx="1188.7" cy="522.1" r="2.5" fill="#cc2229"/></g>
<g font-family="'Liberation Sans', Arial, sans-serif"><rect x="1347.3" y="147" width="175" height="398" fill="#fff"/><path d="M1347.3 147V545H1522.3" fill="none" stroke="#6b6b6b" stroke-width="1.2"/><line x1="1367.17" y1="545" x2="1367.17" y2="552" stroke="#6b6b6b" stroke-width="1.2"/><text x="1367.17" y="567.5" text-anchor="middle" font-size="13" fill="#222">-5</text><line x1="1403.2" y1="545" x2="1403.2" y2="552" stroke="#6b6b6b" stroke-width="1.2"/><text x="1403.2" y="567.5" text-anchor="middle" font-size="13" fill="#222">0</text><line x1="1439.23" y1="545" x2="1439.23" y2="552" stroke="#6b6b6b" stroke-width="1.2"/><text x="1439.23" y="567.5" text-anchor="middle" font-size="13" fill="#222">5</text><line x1="1475.25" y1="545" x2="1475.25" y2="552" stroke="#6b6b6b" stroke-width="1.2"/><text x="1475.25" y="567.5" text-anchor="middle" font-size="13" fill="#222">10</text><line x1="1511.28" y1="545" x2="1511.28" y2="552" stroke="#6b6b6b" stroke-width="1.2"/><text x="1511.28" y="567.5" text-anchor="middle" font-size="13" fill="#222">15</text><text x="1427" y="177" text-anchor="middle" font-size="13.3" fill="#1a1a1a">8 vs. 3+8</text><text x="1343.4" y="201" text-anchor="end" font-size="10.1" fill="#333">Study 2</text><text x="1343.4" y="213.5" text-anchor="end" font-size="10.1" fill="#333">Study 17</text><text x="1343.4" y="226" text-anchor="end" font-size="10.1" fill="#333">Study 20</text><text x="1343.4" y="238.5" text-anchor="end" font-size="10.1" fill="#333">Study 44</text><text x="1343.4" y="251" text-anchor="end" font-size="10.1" fill="#333">Study 49</text><text x="1343.4" y="263.5" text-anchor="end" font-size="10.1" fill="#333">Study 59</text><text x="1343.4" y="276" text-anchor="end" font-size="10.1" fill="#333">Study 62</text><text x="1343.4" y="288.5" text-anchor="end" font-size="10.1" fill="#333">All C H</text><text x="1343.4" y="301" text-anchor="end" font-size="10.1" fill="#333">All studies</text><text x="1427" y="339.5" text-anchor="middle" font-size="13.3" fill="#1a1a1a">8 vs. 5+8</text><text x="1343.4" y="363.5" text-anchor="end" font-size="10.1" fill="#333">Study 7</text><text x="1343.4" y="376" text-anchor="end" font-size="10.1" fill="#333">Study 37</text><text x="1343.4" y="388.5" text-anchor="end" font-size="10.1" fill="#333">Study 39</text><text x="1343.4" y="401" text-anchor="end" font-size="10.1" fill="#333">Study 56</text><text x="1343.4" y="413.5" text-anchor="end" font-size="10.1" fill="#333">Study 57</text><text x="1343.4" y="426" text-anchor="end" font-size="10.1" fill="#333">Study 67</text><text x="1343.4" y="438.5" text-anchor="end" font-size="10.1" fill="#333">All E H</text><text x="1343.4" y="451" text-anchor="end" font-size="10.1" fill="#333">All studies</text><text x="1427" y="489.5" text-anchor="middle" font-size="13.3" fill="#1a1a1a">8 vs. 7+8</text><text x="1343.4" y="513.5" text-anchor="end" font-size="10.1" fill="#333">Study 30</text><text x="1343.4" y="526" text-anchor="end" font-size="10.1" fill="#333">All G H</text><text x="1343.4" y="538.5" text-anchor="end" font-size="10.1" fill="#333">All studies</text><rect x="1405.9" y="192.1" width="10" height="10" rx="0.8" fill="#0f0ff5"/><line x1="1436.8" y1="209.6" x2="1450.2" y2="209.6" stroke="#0f0ff5" stroke-width="1.7"/><rect x="1440.25" y="206.15" width="6.9" height="6.9" rx="0.8" fill="#0f0ff5"/><rect x="1411.85" y="217.15" width="9.9" height="9.9" rx="0.8" fill="#0f0ff5"/><line x1="1435.7" y1="234.6" x2="1446.9" y2="234.6" stroke="#0f0ff5" stroke-width="1.7"/><rect x="1437.25" y="230.15" width="8.9" height="8.9" rx="0.8" fill="#0f0ff5"/><rect x="1412.25" y="240.85" width="12.5" height="12.5" rx="0.8" fill="#0f0ff5"/><line x1="1428.8" y1="259.6" x2="1441.6" y2="259.6" stroke="#0f0ff5" stroke-width="1.7"/><rect x="1431.85" y="256.15" width="6.9" height="6.9" rx="0.8" fill="#0f0ff5"/><line x1="1454.9" y1="272.1" x2="1468.9" y2="272.1" stroke="#0f0ff5" stroke-width="1.7"/><rect x="1458.6" y="268.6" width="7" height="7" rx="0.8" fill="#0f0ff5"/><line x1="1419.2" y1="284.6" x2="1445.4" y2="284.6" stroke="#3f8a26" stroke-width="1.7"/><circle cx="1432.4" cy="284.6" r="2.5" fill="#3f8a26"/><line x1="1419.2" y1="297.1" x2="1445.4" y2="297.1" stroke="#cc2229" stroke-width="1.7"/><circle cx="1432.4" cy="297.1" r="2.5" fill="#cc2229"/><line x1="1428.7" y1="359.6" x2="1439.9" y2="359.6" stroke="#0f0ff5" stroke-width="1.7"/><rect x="1430.1" y="355.3" width="8.6" height="8.6" rx="0.8" fill="#0f0ff5"/><line x1="1428.1" y1="372.1" x2="1442.8" y2="372.1" stroke="#0f0ff5" stroke-width="1.7"/><rect x="1432" y="368.6" width="7" height="7" rx="0.8" fill="#0f0ff5"/><rect x="1422.65" y="379.45" width="10.3" height="10.3" rx="0.8" fill="#0f0ff5"/><line x1="1418" y1="397.1" x2="1428.4" y2="397.1" stroke="#0f0ff5" stroke-width="1.7"/><rect x="1418.55" y="392.35" width="9.5" height="9.5" rx="0.8" fill="#0f0ff5"/><rect x="1416.95" y="404.85" width="9.5" height="9.5" rx="0.8" fill="#0f0ff5"/><rect x="1411.7" y="414.1" width="16" height="16" rx="0.8" fill="#0f0ff5"/><line x1="1412.8" y1="434.6" x2="1441" y2="434.6" stroke="#3f8a26" stroke-width="1.7"/><circle cx="1427" cy="434.6" r="2" fill="#3f8a26"/><line x1="1412.8" y1="447.1" x2="1441" y2="447.1" stroke="#cc2229" stroke-width="1.7"/><circle cx="1427" cy="447.1" r="2" fill="#cc2229"/><rect x="1411.7" y="503.6" width="12" height="12" rx="0.8" fill="#0f0ff5"/><line x1="1383" y1="522.1" x2="1452.1" y2="522.1" stroke="#3f8a26" stroke-width="1.7"/><circle cx="1417.6" cy="522.1" r="1" fill="#3f8a26"/><line x1="1383" y1="534.6" x2="1452.1" y2="534.6" stroke="#cc2229" stroke-width="1.7"/><circle cx="1417.6" cy="534.6" r="1" fill="#cc2229"/></g>
<text x="1163.5" y="589.8" text-anchor="middle" font-family="'Liberation Sans', Arial, sans-serif" font-size="15.4" fill="#111">Standardised mean difference</text>
<rect x="919" y="600.5" width="488.6" height="36.1" fill="#fff" stroke="#111" stroke-width="1.6"/>
<g font-family="'Liberation Sans', Arial, sans-serif" font-size="19.5" fill="#111"><circle cx="928.2" cy="619.1" r="1.4" fill="#0f0ff5"/><text x="941" y="626.8">Studies</text><circle cx="1035.9" cy="619.1" r="1.4" fill="#3f8a26"/><text x="1049.2" y="626.8">Pooled within design</text><circle cx="1259.6" cy="619.1" r="1.4" fill="#cc2229"/><text x="1273" y="626.8">Pooled overall</text></g>
<text x="801.2" y="656.1" font-family="'Liberation Sans', Arial, sans-serif" font-size="11.9" fill="#222">Test of consistency: chi2(1)=0.64, P=0.424</text>
<g><rect x="47.4" y="753.6" width="162.1" height="67.2" fill="#3e6cb2"/><rect x="47.4" y="820.8" width="162.1" height="70" fill="#fff"/><rect x="209.5" y="820.8" width="162.4" height="70" fill="#3e6cb2"/><rect x="47.4" y="890.8" width="162.1" height="70.2" fill="#fff"/><rect x="209.5" y="890.8" width="162.4" height="70.2" fill="#fff"/><rect x="371.9" y="890.8" width="162.6" height="70.2" fill="#3e6cb2"/><rect x="47.4" y="961" width="162.1" height="71.5" fill="#fff"/><rect x="209.5" y="961" width="162.4" height="71.5" fill="#fff"/><rect x="371.9" y="961" width="162.6" height="71.5" fill="#fff"/><rect x="534.5" y="961" width="162.1" height="71.5" fill="#3e6cb2"/><rect x="47.4" y="1032.5" width="162.1" height="71.2" fill="#fff"/><rect x="209.5" y="1032.5" width="162.4" height="71.2" fill="#fff"/><rect x="371.9" y="1032.5" width="162.6" height="71.2" fill="#fff"/><rect x="534.5" y="1032.5" width="162.1" height="71.2" fill="#fff"/><rect x="696.6" y="1032.5" width="162.4" height="71.2" fill="#3e6cb2"/><rect x="47.4" y="1103.7" width="162.1" height="69.8" fill="#fff"/><rect x="209.5" y="1103.7" width="162.4" height="69.8" fill="#fff"/><rect x="371.9" y="1103.7" width="162.6" height="69.8" fill="#fff"/><rect x="534.5" y="1103.7" width="162.1" height="69.8" fill="#fff"/><rect x="696.6" y="1103.7" width="162.4" height="69.8" fill="#fff"/><rect x="859" y="1103.7" width="162" height="69.8" fill="#3e6cb2"/><rect x="47.4" y="1173.5" width="162.1" height="71.4" fill="#fff"/><rect x="209.5" y="1173.5" width="162.4" height="71.4" fill="#fff"/><rect x="371.9" y="1173.5" width="162.6" height="71.4" fill="#fff"/><rect x="534.5" y="1173.5" width="162.1" height="71.4" fill="#fff"/><rect x="696.6" y="1173.5" width="162.4" height="71.4" fill="#fff"/><rect x="859" y="1173.5" width="162" height="71.4" fill="#fff"/><rect x="1021" y="1173.5" width="160.9" height="71.4" fill="#3e6cb2"/><rect x="47.4" y="1244.9" width="162.1" height="70" fill="#fef832"/><rect x="209.5" y="1244.9" width="162.4" height="70" fill="#fef832"/><rect x="371.9" y="1244.9" width="162.6" height="70" fill="#fef832"/><rect x="534.5" y="1244.9" width="162.1" height="70" fill="#fef832"/><rect x="696.6" y="1244.9" width="162.4" height="70" fill="#fef832"/><rect x="859" y="1244.9" width="162" height="70" fill="#fef832"/><rect x="1021" y="1244.9" width="160.9" height="70" fill="#fff"/><rect x="1181.9" y="1244.9" width="164.3" height="70" fill="#3e6cb2"/></g>
<path d="M47.4 753.6H209.5V820.8H47.4ZM47.4 820.8H209.5V890.8H47.4ZM209.5 820.8H371.9V890.8H209.5ZM47.4 890.8H209.5V961H47.4ZM209.5 890.8H371.9V961H209.5ZM371.9 890.8H534.5V961H371.9ZM47.4 961H209.5V1032.5H47.4ZM209.5 961H371.9V1032.5H209.5ZM371.9 961H534.5V1032.5H371.9ZM534.5 961H696.6V1032.5H534.5ZM47.4 1032.5H209.5V1103.7H47.4ZM209.5 1032.5H371.9V1103.7H209.5ZM371.9 1032.5H534.5V1103.7H371.9ZM534.5 1032.5H696.6V1103.7H534.5ZM696.6 1032.5H859V1103.7H696.6ZM47.4 1103.7H209.5V1173.5H47.4ZM209.5 1103.7H371.9V1173.5H209.5ZM371.9 1103.7H534.5V1173.5H371.9ZM534.5 1103.7H696.6V1173.5H534.5ZM696.6 1103.7H859V1173.5H696.6ZM859 1103.7H1021V1173.5H859ZM47.4 1173.5H209.5V1244.9H47.4ZM209.5 1173.5H371.9V1244.9H209.5ZM371.9 1173.5H534.5V1244.9H371.9ZM534.5 1173.5H696.6V1244.9H534.5ZM696.6 1173.5H859V1244.9H696.6ZM859 1173.5H1021V1244.9H859ZM1021 1173.5H1181.9V1244.9H1021ZM47.4 1244.9H209.5V1314.9H47.4ZM209.5 1244.9H371.9V1314.9H209.5ZM371.9 1244.9H534.5V1314.9H371.9ZM534.5 1244.9H696.6V1314.9H534.5ZM696.6 1244.9H859V1314.9H696.6ZM859 1244.9H1021V1314.9H859ZM1021 1244.9H1181.9V1314.9H1021ZM1181.9 1244.9H1346.2V1314.9H1181.9Z" fill="none" stroke="#000" stroke-width="2.8" stroke-linejoin="miter"/>
<g font-family="'Liberation Serif', 'Times New Roman', serif" fill="#000"><text x="128.45" y="798.2" text-anchor="middle" font-weight="bold" font-size="31">CWJ+CT</text><text x="128.45" y="849.5" text-anchor="middle" font-size="26.4">-0.37</text><text x="128.45" y="881" text-anchor="middle" font-size="26.4">(-3.19,2.45)</text><text x="290.7" y="866.8" text-anchor="middle" font-weight="bold" font-size="31">MLN+CT</text><text x="128.45" y="919.6" text-anchor="middle" font-size="26.4">-0.36</text><text x="128.45" y="951.1" text-anchor="middle" font-size="26.4">(-2.87,2.14)</text><text x="290.7" y="919.6" text-anchor="middle" font-size="26.4">0.01</text><text x="293.9" y="951.1" text-anchor="middle" font-size="26.4">(-2.22,2.24)</text><text x="453.2" y="936.9" text-anchor="middle" font-weight="bold" font-size="31">SF+CT</text><text x="128.45" y="990.45" text-anchor="middle" font-size="26.4">-1.14</text><text x="128.45" y="1021.95" text-anchor="middle" font-size="26.4">(-4.66,2.38)</text><text x="290.7" y="990.45" text-anchor="middle" font-size="26.4">-0.77</text><text x="290.7" y="1021.95" text-anchor="middle" font-size="26.4">(-4.10,2.56)</text><text x="453.2" y="990.45" text-anchor="middle" font-size="26.4">-0.78</text><text x="453.2" y="1021.95" text-anchor="middle" font-size="26.4">(-3.85,2.30)</text><text x="615.55" y="1007.75" text-anchor="middle" font-weight="bold" font-size="31">HQ+CT</text><text x="128.45" y="1061.8" text-anchor="middle" font-size="26.4">-1.13</text><text x="130.55" y="1093.3" text-anchor="middle" font-size="26.4">(-4.04,1.78)</text><text x="290.7" y="1061.8" text-anchor="middle" font-size="26.4">-0.76</text><text x="293.9" y="1093.3" text-anchor="middle" font-size="26.4">(-3.44,1.91)</text><text x="453.2" y="1061.8" text-anchor="middle" font-size="26.4">-0.77</text><text x="455.9" y="1093.3" text-anchor="middle" font-size="26.4">(-3.11,1.58)</text><text x="615.55" y="1061.8" text-anchor="middle" font-size="26.4">0.01</text><text x="615.55" y="1093.3" text-anchor="middle" font-size="26.4">(-3.40,3.42)</text><text x="777.8" y="1079.1" text-anchor="middle" font-weight="bold" font-size="31">SHM+CT</text><text x="128.45" y="1132.3" text-anchor="middle" font-size="26.4">-1.41</text><text x="131.15" y="1163.8" text-anchor="middle" font-size="26.4">(-3.87,1.06)</text><text x="290.7" y="1132.3" text-anchor="middle" font-size="26.4">-1.04</text><text x="290.7" y="1163.8" text-anchor="middle" font-size="26.4">(-3.22,1.14)</text><text x="453.2" y="1132.3" text-anchor="middle" font-size="26.4">-1.04</text><text x="455.9" y="1163.8" text-anchor="middle" font-size="26.4">(-2.81,0.72)</text><text x="615.55" y="1132.3" text-anchor="middle" font-size="26.4">-0.27</text><text x="618.75" y="1163.8" text-anchor="middle" font-size="26.4">(-3.30,2.77)</text><text x="777.8" y="1132.3" text-anchor="middle" font-size="26.4">-0.28</text><text x="781" y="1163.8" text-anchor="middle" font-size="26.4">(-2.57,2.02)</text><text x="940" y="1149.6" text-anchor="middle" font-weight="bold" font-size="31">SM+CT</text><text x="128.45" y="1202.9" text-anchor="middle" font-size="26.4">-2.43</text><text x="131.15" y="1234.4" text-anchor="middle" font-size="26.4">(-7.66,2.81)</text><text x="290.7" y="1202.9" text-anchor="middle" font-size="26.4">-2.06</text><text x="290.7" y="1234.4" text-anchor="middle" font-size="26.4">(-7.17,3.05)</text><text x="453.2" y="1202.9" text-anchor="middle" font-size="26.4">-2.06</text><text x="451.8" y="1234.4" text-anchor="middle" font-size="26.4">(-7.01,2.88)</text><text x="615.55" y="1202.9" text-anchor="middle" font-size="26.4">-1.29</text><text x="618.75" y="1234.4" text-anchor="middle" font-size="26.4">(-6.82,4.25)</text><text x="777.8" y="1202.9" text-anchor="middle" font-size="26.4">-1.30</text><text x="781" y="1234.4" text-anchor="middle" font-size="26.4">(-6.46,3.87)</text><text x="940" y="1202.9" text-anchor="middle" font-size="26.4">-1.02</text><text x="940" y="1234.4" text-anchor="middle" font-size="26.4">(-5.94,3.90)</text><text x="1101.45" y="1220.2" text-anchor="middle" font-weight="bold" font-size="31">SQFZ+CT</text><text x="128.45" y="1273.6" text-anchor="middle" font-weight="bold" font-size="26.4">-4.37</text><text x="128.45" y="1305.1" text-anchor="middle" font-weight="bold" font-size="26.4">(-6.52,-2.22)</text><text x="290.7" y="1273.6" text-anchor="middle" font-weight="bold" font-size="26.4">-4.00</text><text x="293.9" y="1305.1" text-anchor="middle" font-weight="bold" font-size="26.4">(-5.82,-2.18)</text><text x="453.2" y="1273.6" text-anchor="middle" font-weight="bold" font-size="26.4">-4.01</text><text x="453.2" y="1305.1" text-anchor="middle" font-weight="bold" font-size="26.4">(-5.30,-2.72)</text><text x="615.55" y="1273.6" text-anchor="middle" font-weight="bold" font-size="26.4">-3.23</text><text x="618.75" y="1305.1" text-anchor="middle" font-weight="bold" font-size="26.4">(-6.02,-0.44)</text><text x="777.8" y="1273.6" text-anchor="middle" font-weight="bold" font-size="26.4">-3.24</text><text x="777.8" y="1305.1" text-anchor="middle" font-weight="bold" font-size="26.4">(-5.20,-1.28)</text><text x="940" y="1273.6" text-anchor="middle" font-weight="bold" font-size="26.4">-2.97</text><text x="943.2" y="1305.1" text-anchor="middle" font-weight="bold" font-size="26.4">(-4.17,-1.76)</text><text x="1101.45" y="1273.6" text-anchor="middle" font-size="26.4">-1.95</text><text x="1104.15" y="1305.1" text-anchor="middle" font-size="26.4">(-6.72,2.83)</text><text x="1264.05" y="1290.9" text-anchor="middle" font-weight="bold" font-size="31">CT</text></g>
<g stroke="#000" stroke-width="2.6" fill="none" stroke-linecap="round" stroke-linejoin="round"><line x1="241.1" y1="749" x2="1237.5" y2="1164.8"/><polyline points="1226.2,1149.9 1238.6,1165.3 1219.1,1167.8"/></g>
<g font-family="'Liberation Serif', 'Times New Roman', serif" font-size="31.4" fill="#111" text-anchor="middle"><text x="551.3" y="727.7">Highest probability of being the best treatment</text><text x="551.3" y="764.5">(with high SUCRA values)</text><text x="1252.5" y="1026">Lowest probability of being the best</text><text x="1256.4" y="1063.5">treatment (with low SUCRA values)</text></g>
<rect x="1016.3" y="806.3" width="104.8" height="48.7" fill="#3d6eb4"/>
<rect x="1016.3" y="883.2" width="103.7" height="48.8" fill="#e6e03c"/>
<g font-family="'Liberation Serif', 'Times New Roman', serif" font-size="31.4" fill="#111"><text x="1144.6" y="844.2">Treatments</text><text x="1141" y="918.3">Significant pairwise comparisons</text></g>
</svg>
</body></html>
